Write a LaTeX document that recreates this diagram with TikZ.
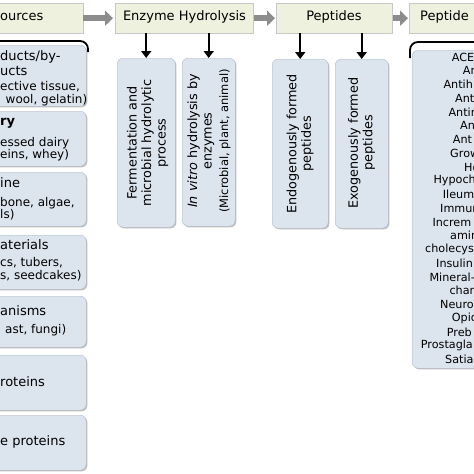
\documentclass[tikz,border=0pt]{standalone}
\usepackage{fontspec}
\setmainfont{DejaVu Sans}
\usetikzlibrary{shadows,arrows.meta,calc}
\definecolor{bannerfill}{HTML}{EEF1DE}
\definecolor{boxfill}{HTML}{DCE4EE}
\definecolor{boxline}{HTML}{AEB8C6}
\definecolor{grayarrow}{HTML}{8C8C8C}
\begin{document}
\begin{tikzpicture}[x=1pt,y=-1pt,
  banner/.style={draw=black!22, fill=bannerfill, minimum height=30pt, inner sep=0pt, anchor=north west,
    drop shadow={shadow xshift=0.8pt,shadow yshift=-0.8pt,opacity=0.35,fill=black!60}},
  bigbox/.style={draw=boxline, fill=boxfill, rounded corners=6pt, inner sep=0pt, anchor=north west,
    drop shadow={shadow xshift=1.2pt,shadow yshift=-1.2pt,opacity=0.45,fill=black!55}},
  bantext/.style={font=\fontsize{13}{15}\selectfont, inner sep=0pt},
  lt/.style={font=\fontsize{13}{15}\selectfont, inner sep=0pt, anchor=west},
  ltb/.style={font=\bfseries\fontsize{13}{15}\selectfont, inner sep=0pt, anchor=west},
  ls/.style={font=\fontsize{12}{14}\selectfont, inner sep=0pt, anchor=west},
  rt/.style={font=\fontsize{11.2}{13}\selectfont, inner sep=0pt, anchor=west},
  vtext/.style={font=\fontsize{12.8}{14.5}\selectfont, inner sep=0pt, align=center, rotate=90},
  downarrow/.style={line width=1.8pt, -{Triangle[length=7pt,width=10pt]}},
  grayarr/.style={line width=6pt, grayarrow, -{Triangle[length=8pt,width=15pt]}}
]
\useasboundingbox (0,0) rectangle (474,474);
\clip (0,0) rectangle (474,474);

% top banner
\node[banner, minimum width=143pt] (src) at (-60,3) {};
\node[banner, minimum width=138pt] (enz) at (115,3) {};
\node[banner, minimum width=116pt] (pep) at (276,3) {};
\node[banner, minimum width=131pt] (act) at (409,3) {};
\node[bantext, anchor=west] (srcl) at (0,17) {ources};
\node[bantext] (enzl) at (184.5,17) {Enzyme Hydrolysis};
\node[bantext] (pepl) at (334,17) {Peptides};
\node[bantext, anchor=west] (actl) at (420,17) {Peptide};

\draw[grayarr] (src.east) -- ([xshift=-2pt]enz.west);
\draw[grayarr] ([xshift=1pt]enz.east) -- ([xshift=-1pt]pep.west);
\draw[grayarr] ([xshift=1pt]pep.east) -- ([xshift=-1pt]act.west);

% left container corner
\draw[line width=1.8pt] (0,41) -- (80,41) arc[start angle=90,end angle=0,radius=8pt] -- (88,52);
% right container corner
\draw[line width=1.8pt] (410,58) -- (410,50) arc[start angle=180,end angle=90,radius=8pt] -- (474,42);

% left source boxes
\node[bigbox, minimum width=106pt, minimum height=61pt] (s1) at (-20,45) {};
\node[bigbox, minimum width=106pt, minimum height=55pt] (s2) at (-20,111) {};
\node[bigbox, minimum width=106pt, minimum height=54pt] (s3) at (-20,172) {};
\node[bigbox, minimum width=106pt, minimum height=54pt] (s4) at (-20,235) {};
\node[bigbox, minimum width=106pt, minimum height=51pt] (s5) at (-20,296) {};
\node[bigbox, minimum width=106pt, minimum height=55pt] (s6) at (-20,355) {};
\node[bigbox, minimum width=106pt, minimum height=55pt] (s7) at (-20,415) {};

\node[lt] (l1) at (0,57) {ducts/by-};
\node[lt] (l2) at (0,71) {ucts};
\node[ls] (l3) at (0,87) {ective tissue,};
\node[ls] (l4) at (5.5,100) {wool, gelatin)};
\node[ltb] (l5) at (0,123) {ry};
\node[ls] (l6) at (0,143) {essed dairy};
\node[ls] (l7) at (0,155) {eins, whey)};
\node[lt] (l8) at (0,183) {ine};
\node[ls] (l9) at (0,203) {bone, algae,};
\node[ls] (l10) at (0,215) {ls)};
\node[lt] (l11) at (0,245) {aterials};
\node[ls] (l12) at (0,263) {cs, tubers,};
\node[ls] (l13) at (0,276) {s, seedcakes)};
\node[lt] (l14) at (0,311) {anisms};
\node[ls] (l15) at (5,330) {ast, fungi)};
\node[lt] (l16) at (0,382) {roteins};
\node[lt] (l17) at (0,442) {e proteins};

% vertical boxes
\node[bigbox, minimum width=58pt, minimum height=169pt] (vA) at (117,58) {};
\node[bigbox, minimum width=53pt, minimum height=168pt] (vB) at (182,58) {};
\node[bigbox, minimum width=56pt, minimum height=169pt] (vC) at (272,59) {};
\node[bigbox, minimum width=53pt, minimum height=169pt] (vD) at (335,59) {};

\draw[downarrow] (vA.north |- enz.south) -- (vA.north);
\draw[downarrow] (vB.north |- enz.south) -- (vB.north);
\draw[downarrow] (vC.north |- pep.south) -- (vC.north);
\draw[downarrow] (vD.north |- pep.south) -- (vD.north);

\node[vtext] (tA) at (147.5,143) {Fermentation and\\microbial hydrolytic\\process};
\node[vtext] (tB) at (209,141) {\textit{In vitro} hydrolysis by\\enzymes\\[2pt]{\fontsize{11.5}{13}\selectfont (Microbial, plant, animal)}};
\node[vtext] (tC) at (300,144) {Endogenously formed\\peptides};
\node[vtext] (tD) at (361.5,143) {Exogenously formed\\peptides};

% right activity box
\node[bigbox, minimum width=100pt, minimum height=318pt] (rb) at (412,50) {};
\foreach \xx/\t [count=\i from 0] in {451.7/ACE, 462.7/An, 443.3/Antih, 455/Ant, 448.3/Antim, 460/An, 452.7/Ant, 450/Grow, 464/Ho, 433.3/Hypoch, 442.7/Ileum, 440/Immun, 432.3/Increm, 450/amin, 425/cholecys, 436/Insulin, 429.3/Mineral-, 449.3/cham, 440/Neuro, 451.7/Opio, 446.7/Preb, 420.7/Prostagla, 445/Satia}
  \node[rt] (r\i) at (\xx,57+\i*13.75) {\t};
\end{tikzpicture}
\end{document}
